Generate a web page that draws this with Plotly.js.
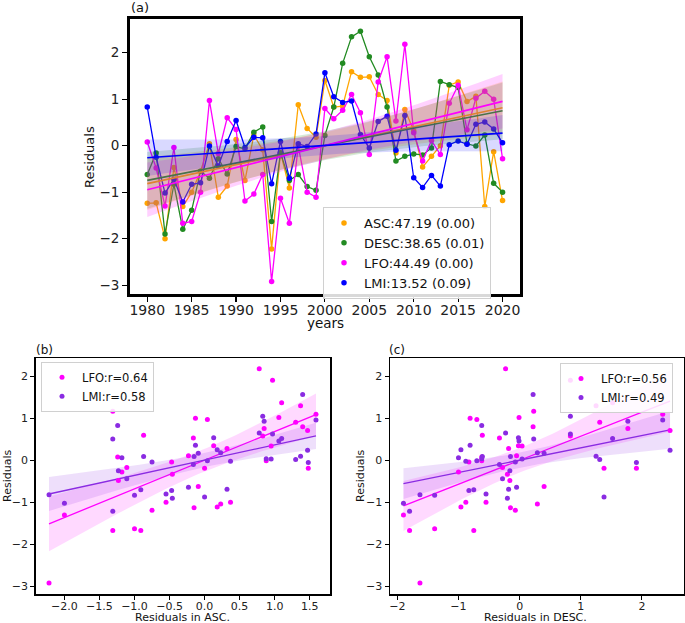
<!DOCTYPE html>
<html><head><meta charset="utf-8">
<script src="https://cdn.plot.ly/plotly-3.0.1.min.js"></script>
<style>html,body{margin:0;padding:0;background:#fff}#chart{width:685px;height:623px}</style>
</head><body><div id="chart"></div>
<script>
// ---------------- data ----------------
const years = [1980,1981,1982,1983,1984,1985,1986,1987,1988,1989,1990,1991,1992,1993,1994,1995,1996,1997,1998,1999,2000,2001,2002,2003,2004,2005,2006,2007,2008,2009,2010,2011,2012,2013,2014,2015,2016,2017,2018,2019,2020];
const asc  = [-1.24,-1.23,-2.00,-0.47,-1.31,-1.00,-0.55,0.04,-1.11,-0.87,0.13,-0.75,0.23,-0.09,-2.22,-0.15,-0.91,0.88,0.37,0.18,1.40,0.83,0.85,1.59,1.47,1.48,1.10,0.97,-0.16,0.78,0.32,-0.46,-0.23,0.00,1.30,1.37,0.95,1.06,-1.31,-0.13,-1.18];
const desc = [-0.62,-0.16,-1.90,-0.83,-1.80,-1.39,-0.55,-0.70,-0.28,-0.61,-0.02,-0.07,0.29,0.40,-1.63,-0.15,-0.75,-0.62,-0.88,-0.96,0.22,0.83,1.77,2.34,2.46,1.91,1.52,0.83,-0.33,-0.23,-0.18,-0.20,-0.05,1.38,1.31,1.25,0.04,-0.01,0.23,-0.81,-1.00];
const lfo  = [0.08,-0.48,-1.30,-0.04,-1.67,-1.63,-1.00,0.97,-0.17,0.60,0.35,-1.19,-1.04,-0.62,-2.92,-1.13,-1.67,-0.01,-1.00,-1.11,0.80,0.58,0.76,1.10,0.71,-0.19,1.37,1.91,0.53,2.18,0.28,-0.33,0.11,-0.19,0.91,1.30,0.34,1.02,1.17,1.00,-0.28];
const lmi  = [0.83,-0.25,-1.02,-0.72,-1.21,-0.83,-0.80,-0.01,-0.44,0.09,0.54,-0.04,0.18,0.17,-0.82,0.09,-0.70,0.04,-0.02,0.25,1.57,1.05,0.93,0.96,0.24,-0.05,0.52,0.63,-0.10,0.65,-0.69,-0.90,-0.64,-0.87,0.02,0.10,0.03,0.46,0.51,0.36,0.06];
const seriesNames = ['ASC','DESC','LFO','LMI'];
const trendLabels = ['ASC:47.19 (0.00)','DESC:38.65 (0.01)','LFO:44.49 (0.00)','LMI:13.52 (0.09)'];
const corrLabelsB = ['LFO:r=0.64','LMI:r=0.58'];
const corrLabelsC = ['LFO:r=0.56','LMI:r=0.49'];

// ---------------- helpers ----------------
const FONT = 'DejaVu Sans, Verdana, sans-serif';
function fit(x, y){
  const n = x.length;
  const mx = x.reduce((a,b)=>a+b,0)/n, my = y.reduce((a,b)=>a+b,0)/n;
  let sxx=0, sxy=0;
  for(let i=0;i<n;i++){ sxx+=(x[i]-mx)**2; sxy+=(x[i]-mx)*(y[i]-my); }
  const b = sxy/sxx, a = my - b*mx;
  let ss=0; for(let i=0;i<n;i++){ ss += (y[i]-a-b*x[i])**2; }
  const s = Math.sqrt(ss/(n-2));
  return {a,b,s,mx,sxx,n};
}
function grid(x, k){
  const lo = Math.min(...x), hi = Math.max(...x), g=[];
  for(let i=0;i<k;i++) g.push(lo + (hi-lo)*i/(k-1));
  return g;
}
function regTraces(x, y, color, fillcol, xa, ya, lw){
  const f = fit(x,y), t = 2.023;
  const g = grid(x, 60);
  const yh = g.map(v=>f.a+f.b*v);
  const se = g.map(v=>t*f.s*Math.sqrt(1/f.n + (v-f.mx)**2/f.sxx));
  const up = yh.map((v,i)=>v+se[i]), lo = yh.map((v,i)=>v-se[i]);
  return [
    {x: g.concat(g.slice().reverse()), y: up.concat(lo.slice().reverse()), type:'scatter', mode:'lines',
     fill:'toself', fillcolor: fillcol, line:{width:0}, hoverinfo:'skip', showlegend:false, xaxis:xa, yaxis:ya},
    {x: g, y: yh, type:'scatter', mode:'lines', line:{color:color, width:lw}, showlegend:false, xaxis:xa, yaxis:ya}
  ];
}

// ---------------- traces ----------------
const sData = [asc, desc, lfo, lmi];
const sCol = ['#FFA500', '#228B22', '#FF00FF', '#0000FF'];
const sFill = ['rgba(255,165,0,0.2)', 'rgba(34,139,34,0.18)', 'rgba(255,0,255,0.18)', 'rgba(0,0,255,0.15)'];
const traces = [];
// panel (a) series
sData.forEach((d,i)=>{
  traces.push({x: years, y: d, type:'scatter', mode:'lines', line:{color:sCol[i], width:1.3},
    showlegend:false, xaxis:'x', yaxis:'y'});
  traces.push({x: years, y: d, type:'scatter', mode:'markers', name: trendLabels[i],
    marker:{color:sCol[i], size:5.5}, legend:'legend', xaxis:'x', yaxis:'y'});
});
// panel (a) trends
sData.forEach((d,i)=>{ traces.push(...regTraces(years, d, sCol[i], sFill[i], 'x', 'y', 1.6)); });

// panel (b) and (c)
const cLFO = '#FF00FF', cLMI = '#8A2BE2';
const fLFO = 'rgba(255,0,255,0.15)', fLMI = 'rgba(138,43,226,0.15)';
[[asc,'x2','y2','legend2',corrLabelsB],[desc,'x3','y3','legend3',corrLabelsC]].forEach(([xs,xa,ya,lg,labs])=>{
  traces.push(...regTraces(xs, lfo, cLFO, fLFO, xa, ya, 1.3));
  traces.push(...regTraces(xs, lmi, cLMI, fLMI, xa, ya, 1.3));
  traces.push({x: xs, y: lfo, type:'scatter', mode:'markers', name: labs[0], marker:{color:cLFO, size:5},
    legend: lg, xaxis:xa, yaxis:ya});
  traces.push({x: xs, y: lmi, type:'scatter', mode:'markers', name: labs[1], marker:{color:cLMI, size:5},
    legend: lg, xaxis:xa, yaxis:ya});
});

// ---------------- layout ----------------
function ax(extra){
  return Object.assign({showline:true, mirror:true, linecolor:'#000', linewidth:1.5, ticks:'outside', ticklen:4,
    tickwidth:1, tickcolor:'#000', showgrid:false, zeroline:false, tickfont:{family:FONT, size:11, color:'#222'}}, extra);
}
const W=685, H=623;
const px = v=>v/W, py = v=>1-v/H;
const ann = (text, x, y, size, extra)=>Object.assign({text, x:px(x), y:py(y), xref:'paper', yref:'paper',
  xanchor:'center', yanchor:'middle', showarrow:false, font:{family:FONT, size, color:'#111'}}, extra||{});
const layout = {
  width: W, height: H, margin:{l:0,r:0,t:0,b:0}, paper_bgcolor:'#fff', plot_bgcolor:'#fff',
  font:{family:FONT},
  xaxis: ax({domain:[px(129.5), px(520.3)], range:[1978, 2022], dtick:5, tick0:1980, linewidth:2.5, ticklen:5,
    tickwidth:1.2, ticklabelstandoff:-3, tickfont:{family:FONT, size:14, color:'#222'}, anchor:'y'}),
  yaxis: ax({domain:[py(294), py(18.7)], range:[-3.19, 2.73], dtick:1, linewidth:2.5, ticklen:5, tickwidth:1.2,
    tickfont:{family:FONT, size:13.5, color:'#222'}, anchor:'x'}),
  xaxis2: ax({domain:[px(35.7), px(330)], range:[-2.41, 1.79], dtick:0.5, tick0:0, tickformat:'.1f', anchor:'y2',
    ticklabelstandoff:-3}),
  yaxis2: ax({domain:[py(594.3), py(358.3)], range:[-3.19, 2.43], dtick:1, anchor:'x2'}),
  xaxis3: ax({domain:[px(390), px(683.5)], range:[-2.12, 2.68], dtick:1, tick0:0, anchor:'y3', ticklabelstandoff:-3}),
  yaxis3: ax({domain:[py(594.3), py(358.3)], range:[-3.19, 2.43], dtick:1, anchor:'x3'}),
  legend: {x:px(323), y:py(207), xanchor:'left', yanchor:'top', bgcolor:'rgba(255,255,255,0.85)',
    bordercolor:'#d0d0d0', borderwidth:1, font:{family:FONT, size:13, color:'#111'}, itemwidth:30, tracegroupgap:0},
  legend2: {x:px(41), y:py(361.7), xanchor:'left', yanchor:'top', bgcolor:'rgba(255,255,255,0.85)',
    bordercolor:'#d0d0d0', borderwidth:1, font:{family:FONT, size:11.5, color:'#111'}, itemwidth:30},
  legend3: {x:px(673), y:py(363), xanchor:'right', yanchor:'top', bgcolor:'rgba(255,255,255,0.85)',
    bordercolor:'#d0d0d0', borderwidth:1, font:{family:FONT, size:11.5, color:'#111'}, itemwidth:30},
  annotations: [
    ann('(a)', 140, 7, 13),
    ann('(b)', 44, 350, 12),
    ann('(c)', 397, 350, 12),
    ann('years', 325, 323, 13.5),
    ann('Residuals', 89, 157, 13, {textangle:-90}),
    ann('Residuals in ASC.', 183, 617, 11),
    ann('Residuals', 7, 476, 11, {textangle:-90}),
    ann('Residuals in DESC.', 535, 617, 11),
    ann('Residuals', 360, 476, 11, {textangle:-90})
  ]
};
Plotly.newPlot('chart', traces, layout, {displayModeBar:false, staticPlot:true});
</script>
</body></html>
